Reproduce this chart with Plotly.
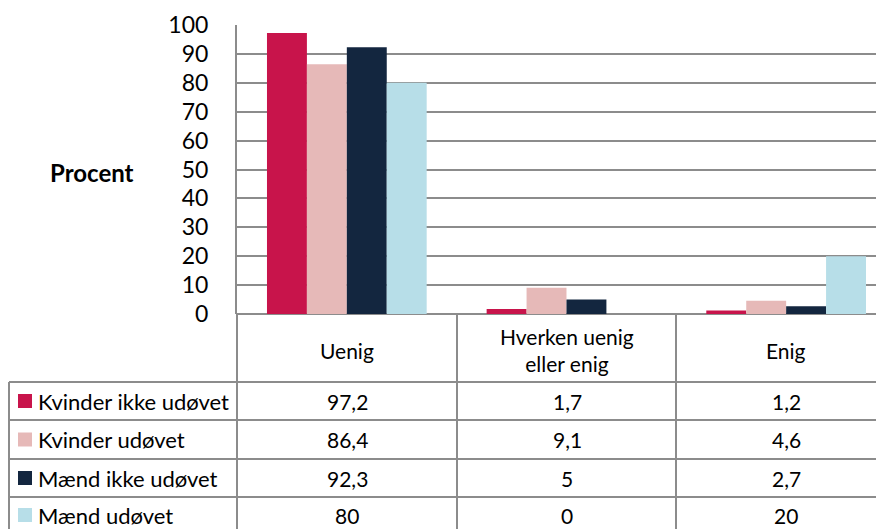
import plotly.graph_objects as go

# data
kategorier = ["Uenig", "Hverken uenig<br>eller enig", "Enig"]
serier = ["Kvinder ikke udøvet", "Kvinder udøvet", "Mænd ikke udøvet", "Mænd udøvet"]
kvinder_ikke_udovet = [97.2, 1.7, 1.2]
kvinder_udovet = [86.4, 9.1, 4.6]
maend_ikke_udovet = [92.3, 5, 2.7]
maend_udovet = [80, 0, 20]
y_ticks = list(range(0, 101, 10))

vaerdier = [kvinder_ikke_udovet, kvinder_udovet, maend_ikke_udovet, maend_udovet]
farver = ["#C8144B", "#E6B9B8", "#13263F", "#B7DEE8"]

# page has an 8px body margin, so the figure is drawn 8px smaller and coordinates below
# are given in window pixels
OFF = 8
W, H = 884 - OFF, 529 - OFF
FONT = "Lato"
GRID = "#8C8C8C"


def px(x):
    return (x - OFF) / W


def py(y):
    return 1 - (y - OFF) / H


fig = go.Figure()
for navn, v, c in zip(serier, vaerdier, farver):
    fig.add_trace(go.Bar(x=kategorier, y=v, name=navn, marker=dict(color=c, line=dict(width=0)),
                         showlegend=False))

shapes = []
annotations = []

# table grid
for y in [382, 420, 459, 497]:
    shapes.append(dict(type="line", xref="paper", yref="paper", x0=px(9), x1=1, y0=py(y), y1=py(y),
                       line=dict(color=GRID, width=2)))
shapes.append(dict(type="line", xref="paper", yref="paper", x0=px(9), x1=px(9), y0=py(382), y1=0,
                   line=dict(color=GRID, width=2)))
for x in [237, 457, 676]:
    shapes.append(dict(type="line", xref="paper", yref="paper", x0=px(x), x1=px(x), y0=py(314), y1=0,
                       line=dict(color=GRID, width=2)))

# header row
for kat, cx in zip(kategorier, [347, 567, 786]):
    annotations.append(dict(text=kat, xref="paper", yref="paper", x=px(cx), y=py(350), showarrow=False,
                            xanchor="center", yanchor="middle", font=dict(size=21, color="black")))

# rows
rad_y = [401, 439.5, 478, 515]
for navn, v, c, ry in zip(serier, vaerdier, farver, rad_y):
    shapes.append(dict(type="rect", xref="paper", yref="paper", x0=px(18), x1=px(32),
                       y0=py(ry + 7), y1=py(ry - 7), fillcolor=c, line=dict(width=0)))
    annotations.append(dict(text=navn, xref="paper", yref="paper", x=px(36), y=py(ry), showarrow=False,
                            xanchor="left", yanchor="middle", font=dict(size=22, color="black")))
    for val, cx in zip(v, [347, 567, 786]):
        annotations.append(dict(text=f"{val:g}".replace(".", ","), xref="paper", yref="paper",
                                x=px(cx), y=py(ry), showarrow=False, xanchor="center", yanchor="middle",
                                font=dict(size=21, color="black")))

annotations.append(dict(text="<b>Procent</b>", xref="paper", yref="paper", x=px(92), y=py(172),
                        showarrow=False, xanchor="center", yanchor="middle",
                        font=dict(size=24, color="black")))

fig.update_layout(
    width=W, height=H,
    margin=dict(l=0, r=0, t=0, b=0),
    paper_bgcolor="white", plot_bgcolor="white",
    font=dict(family=FONT, color="black"),
    barmode="group", bargap=0.273, bargroupgap=0,
    shapes=shapes, annotations=annotations,
)
# last table column runs past the window edge, so the category axis is cut short
fig.update_xaxes(domain=[px(237), 1], range=[-0.5, 2.5 - 12 / 220], showticklabels=False,
                 showgrid=False, zeroline=False, showline=False, ticks="", automargin=False)
fig.update_yaxes(domain=[py(314), py(25)], range=[0, 100], tickvals=y_ticks, showgrid=True,
                 gridcolor=GRID, gridwidth=2, zeroline=True, zerolinecolor=GRID, zerolinewidth=2,
                 showline=True, linecolor=GRID, linewidth=2, ticks="", ticklabelstandoff=22,
                 tickfont=dict(size=23, color="black"), automargin=False)

fig.write_html("out.html")
